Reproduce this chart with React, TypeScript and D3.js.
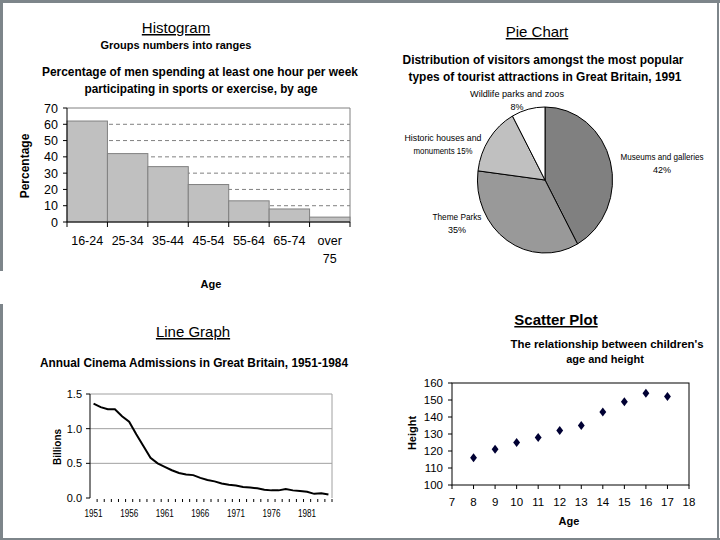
import * as d3 from 'd3';

// histogram: percentage of men doing sport by age
const ageGroups = ['16-24', '25-34', '35-44', '45-54', '55-64', '65-74', 'over 75'];
const sportPct = [62, 42, 34, 23, 13, 8, 3];
const pctTicks = [0, 10, 20, 30, 40, 50, 60, 70];

// pie: tourist attractions 1991
const attractions = ['Museums and galleries', 'Theme Parks', 'Historic houses and monuments', 'Wildlife parks and zoos'];
const attractionPct = [42, 35, 15, 8];

// line: cinema admissions (billions)
const years = d3.range(1951, 1985);
const admissions = [1.36, 1.31, 1.28, 1.28, 1.18, 1.10, 0.92, 0.75, 0.58, 0.50, 0.45, 0.40, 0.36, 0.34, 0.33,
  0.29, 0.26, 0.24, 0.21, 0.19, 0.18, 0.16, 0.15, 0.14, 0.12, 0.11, 0.11, 0.13, 0.11, 0.10, 0.09, 0.06, 0.07, 0.05];
const yearLabels = [1951, 1956, 1961, 1966, 1971, 1976, 1981];
const billionTicks = [0, 0.5, 1.0, 1.5];

// scatter: children's age vs height
const childAge = [8, 9, 10, 11, 12, 13, 14, 15, 16, 17];
const childHeight = [116, 121, 125, 128, 132, 135, 143, 149, 154, 152];
const heightTicks = [100, 110, 120, 130, 140, 150, 160];
const ageTicks = [7, 8, 9, 10, 11, 12, 13, 14, 15, 16, 17, 18];

const font = '"Liberation Sans", Arial, sans-serif';
const frame = '#7d858a';

function Histogram() {
  const x = d3.scaleBand().domain(ageGroups).range([67, 350]).padding(0);
  const y = d3.scaleLinear().domain([0, 70]).range([222, 108]);
  const edges = ageGroups.map(g => x(g)!).concat([350]);
  return (
    <g fontFamily={font}>
      <text x={176} y={33} textAnchor="middle" fontSize={15} textDecoration="underline">Histogram</text>
      <text x={176} y={49} textAnchor="middle" fontSize={11} fontWeight="bold">Groups numbers into ranges</text>
      <text x={200} y={76} textAnchor="middle" fontSize={12} fontWeight="bold" textLength={316} lengthAdjust="spacingAndGlyphs">Percentage of men spending at least one hour per week</text>
      <text x={201} y={93} textAnchor="middle" fontSize={12} fontWeight="bold" textLength={233} lengthAdjust="spacingAndGlyphs">participating in sports or exercise, by age</text>
      {pctTicks.slice(1, -1).map(t => (
        <line key={t} x1={67} x2={350} y1={y(t)} y2={y(t)} stroke="#808080" strokeDasharray="4,3" />
      ))}
      <line x1={67} x2={350} y1={y(70)} y2={y(70)} stroke="#808080" />
      <line x1={350} x2={350} y1={y(70)} y2={y(0)} stroke="#808080" />
      {ageGroups.map((g, i) => (
        <rect key={g} x={x(g)} y={y(sportPct[i])} width={x.bandwidth()} height={y(0) - y(sportPct[i])}
          fill="#c0c0c0" stroke="#808080" strokeWidth={1} />
      ))}
      <line x1={67} x2={67} y1={y(70)} y2={y(0)} stroke="#000" />
      <line x1={67} x2={350} y1={y(0)} y2={y(0)} stroke="#000" />
      {pctTicks.map(t => (
        <g key={t}>
          <line x1={63} x2={67} y1={y(t)} y2={y(t)} stroke="#000" />
          <text x={58} y={y(t) + 4.5} textAnchor="end" fontSize={12.5}>{t}</text>
        </g>
      ))}
      {edges.map((e, i) => <line key={i} x1={e} x2={e} y1={y(0)} y2={y(0) + 5} stroke="#000" />)}
      {ageGroups.map(g => {
        const cx = x(g)! + x.bandwidth() / 2;
        const parts = g.split(' ');
        return (
          <text key={g} x={cx} y={245} textAnchor="middle" fontSize={12.5}>
            {parts.map((p, i) => <tspan key={i} x={cx} dy={i === 0 ? 0 : 18}>{p}</tspan>)}
          </text>
        );
      })}
      <text transform="translate(29,166) rotate(-90)" textAnchor="middle" fontSize={12} fontWeight="bold">Percentage</text>
      <text x={211} y={288} textAnchor="middle" fontSize={11} fontWeight="bold">Age</text>
    </g>
  );
}

function PieChart() {
  const fills = ['#808080', '#999999', '#c0c0c0', '#ffffff'];
  const arcs = d3.pie<number>().sort(null)(attractionPct);
  const arc = d3.arc<d3.PieArcDatum<number>>().innerRadius(0).outerRadius(73);
  const labels = [
    { lines: ['Museums and galleries', '42%'], x: 662, y: 160, w: [83, 0] },
    { lines: ['Theme Parks', '35%'], x: 457, y: 220, w: [49, 0] },
    { lines: ['Historic houses and', 'monuments 15%'], x: 443, y: 141, w: [77, 59] },
    { lines: ['Wildlife parks and zoos', '8%'], x: 517, y: 97, w: [94, 0] },
  ];
  return (
    <g fontFamily={font}>
      <text x={537} y={37} textAnchor="middle" fontSize={15} textDecoration="underline">Pie Chart</text>
      <text x={543} y={64} textAnchor="middle" fontSize={12} fontWeight="bold" textLength={281} lengthAdjust="spacingAndGlyphs">Distribution of visitors amongst the most popular</text>
      <text x={545} y={81} textAnchor="middle" fontSize={12} fontWeight="bold" textLength={273} lengthAdjust="spacingAndGlyphs">types of tourist attractions in Great Britain, 1991</text>
      <g transform="translate(545,180) scale(0.925,1)">
        {arcs.map((a, i) => (
          <path key={i} d={arc(a)!} fill={fills[i]} stroke="#000" strokeWidth={1} vectorEffect="non-scaling-stroke" />
        ))}
      </g>
      {labels.map((l, i) => (
        <g key={i}>
          {l.lines.map((s, j) => (
            <text key={j} x={l.x} y={l.y + j * 12.5} textAnchor="middle" fontSize={9}
              {...(l.w[j] ? { textLength: l.w[j], lengthAdjust: 'spacingAndGlyphs' } : {})}>{s}</text>
          ))}
        </g>
      ))}
    </g>
  );
}

function LineGraph() {
  const x = d3.scaleBand<number>().domain(years).range([90, 332]);
  const y = d3.scaleLinear().domain([0, 1.5]).range([498, 394]);
  const line = d3.line<number>()
    .x((_, i) => x(years[i])! + x.bandwidth() / 2)
    .y(d => y(d));
  return (
    <g fontFamily={font}>
      <text x={193} y={337} textAnchor="middle" fontSize={15} textDecoration="underline">Line Graph</text>
      <text x={194} y={367} textAnchor="middle" fontSize={12} fontWeight="bold" textLength={308} lengthAdjust="spacingAndGlyphs">Annual Cinema Admissions in Great Britain, 1951-1984</text>
      {billionTicks.slice(1).map(t => (
        <line key={t} x1={90} x2={332} y1={y(t)} y2={y(t)} stroke="#a0a0a0" />
      ))}
      <line x1={332} x2={332} y1={y(1.5)} y2={y(0)} stroke="#a0a0a0" />
      <line x1={90} x2={90} y1={y(1.5)} y2={y(0)} stroke="#000" />
      {billionTicks.map(t => (
        <g key={t}>
          <line x1={86} x2={90} y1={y(t)} y2={y(t)} stroke="#000" />
          <text x={82} y={y(t) + 4} textAnchor="end" fontSize={11}>{t.toFixed(1)}</text>
        </g>
      ))}
      {years.map(yr => (
        <line key={yr} x1={x(yr)! + x.bandwidth()} x2={x(yr)! + x.bandwidth()} y1={y(0) + 1} y2={y(0) + 4} stroke="#000" />
      ))}
      {yearLabels.map(yr => (
        <text key={yr} x={x(yr)! + x.bandwidth() / 2} y={517} textAnchor="middle" fontSize={10} textLength={18} lengthAdjust="spacingAndGlyphs">{yr}</text>
      ))}
      <path d={line(admissions)!} fill="none" stroke="#000" strokeWidth={2} />
      <text transform="translate(61,447) rotate(-90)" textAnchor="middle" fontSize={10} fontWeight="bold">Billions</text>
    </g>
  );
}

function ScatterPlot() {
  const x = d3.scaleLinear().domain([7, 18]).range([452, 689]);
  const y = d3.scaleLinear().domain([100, 160]).range([485, 383]);
  const diamond = d3.symbol().type(d3.symbolDiamond).size(26)()!;
  return (
    <g fontFamily={font}>
      <text x={556} y={325} textAnchor="middle" fontSize={15} fontWeight="bold" textDecoration="underline">Scatter Plot</text>
      <text x={607} y={348} textAnchor="middle" fontSize={11} fontWeight="bold" textLength={193} lengthAdjust="spacingAndGlyphs">The relationship between children's</text>
      <text x={605} y={363} textAnchor="middle" fontSize={11} fontWeight="bold">age and height</text>
      <rect x={452} y={383} width={689 - 452} height={485 - 383} fill="none" stroke="#000" />
      {heightTicks.map(t => (
        <g key={t}>
          <line x1={448} x2={452} y1={y(t)} y2={y(t)} stroke="#000" />
          <text x={443} y={y(t) + 4} textAnchor="end" fontSize={11.5}>{t}</text>
        </g>
      ))}
      {ageTicks.map(t => (
        <g key={t}>
          <line x1={x(t)} x2={x(t)} y1={485} y2={489} stroke="#000" />
          <text x={x(t)} y={506} textAnchor="middle" fontSize={11.5}>{t}</text>
        </g>
      ))}
      {childAge.map((a, i) => (
        <path key={a} d={diamond} transform={`translate(${x(a)},${y(childHeight[i])}) scale(1.25,0.95)`} fill="#000033" />
      ))}
      <text transform="translate(416,433) rotate(-90)" textAnchor="middle" fontSize={11} fontWeight="bold">Height</text>
      <text x={569} y={525} textAnchor="middle" fontSize={11} fontWeight="bold">Age</text>
    </g>
  );
}

export default function App() {
  return (
    <svg width={720} height={540} style={{ position: 'absolute', left: 0, top: 0, background: '#fff' }}>
      <rect x={0} y={0} width={720} height={540} fill="#fff" />
      <rect x={0} y={0} width={720} height={3} fill={frame} />
      <rect x={0} y={0} width={3} height={271} fill={frame} />
      <rect x={0} y={304} width={3} height={236} fill={frame} />
      <rect x={717} y={0} width={2} height={540} fill={frame} />
      <rect x={0} y={538} width={720} height={2} fill={frame} />
      <Histogram />
      <PieChart />
      <LineGraph />
      <ScatterPlot />
    </svg>
  );
}
